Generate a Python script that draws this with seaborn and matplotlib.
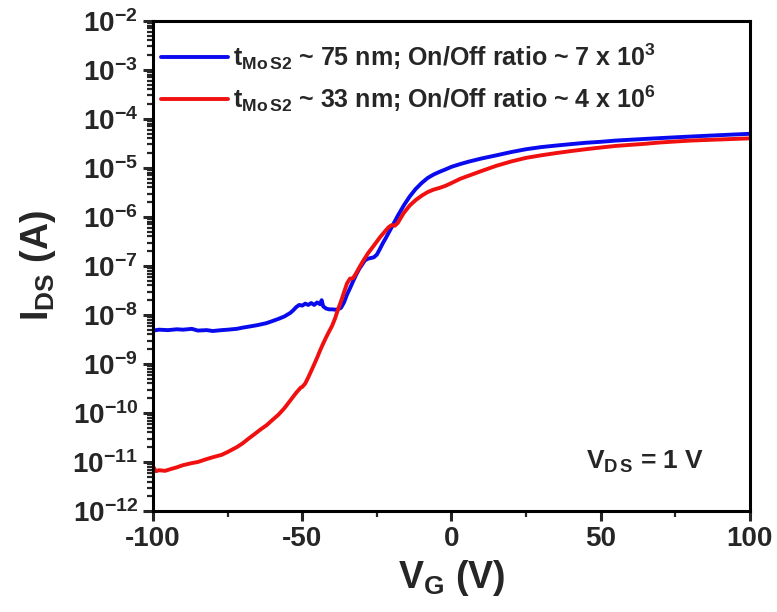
import numpy as np
import pandas as pd
import matplotlib
matplotlib.use("Agg")
import matplotlib.pyplot as plt
import seaborn as sns
from matplotlib.ticker import LogLocator, MultipleLocator, NullFormatter

# ---- data ----
vg_blue = [-100, -98, -95, -92, -90, -87, -85, -82, -80, -77, -75, -72, -70, -67, -65, -62,
           -60, -58, -56, -54, -53, -52, -51, -50, -49, -48, -47, -46, -45, -44, -43.5, -43,
           -42, -41, -40, -39, -38, -37, -36, -35, -34, -33, -32, -31, -30, -29, -28, -27,
           -26, -25, -24, -23, -22, -21, -20, -18, -16, -14, -12, -10, -8, -6, -4, -2, 0,
           3, 6, 10, 15, 20, 25, 30, 35, 40, 45, 50, 55, 60, 65, 70, 75, 80, 85, 90, 95, 100]
ids_blue = [4.8e-9, 5.0e-9, 4.9e-9, 5.1e-9, 5.0e-9, 5.2e-9, 4.8e-9, 4.9e-9, 4.7e-9, 4.9e-9,
            5.0e-9, 5.2e-9, 5.5e-9, 5.9e-9, 6.2e-9, 6.8e-9,
            7.5e-9, 8.3e-9, 9.3e-9, 1.1e-8, 1.25e-8, 1.45e-8, 1.6e-8, 1.55e-8, 1.7e-8, 1.6e-8,
            1.75e-8, 1.6e-8, 1.8e-8, 1.65e-8, 2.0e-8, 1.5e-8,
            1.35e-8, 1.3e-8, 1.3e-8, 1.28e-8, 1.3e-8, 1.4e-8, 1.8e-8, 2.6e-8, 3.5e-8, 4.8e-8,
            6.5e-8, 8.5e-8, 1.05e-7, 1.3e-7, 1.4e-7, 1.45e-7,
            1.5e-7, 1.7e-7, 2.2e-7, 2.9e-7, 3.7e-7, 4.8e-7, 6.2e-7, 1.05e-6, 1.7e-6, 2.6e-6,
            3.7e-6, 4.9e-6, 6.2e-6, 7.3e-6, 8.3e-6, 9.3e-6, 1.05e-5,
            1.2e-5, 1.35e-5, 1.55e-5, 1.8e-5, 2.1e-5, 2.4e-5, 2.65e-5, 2.85e-5, 3.05e-5,
            3.25e-5, 3.4e-5, 3.6e-5, 3.75e-5, 3.9e-5, 4.05e-5, 4.2e-5, 4.35e-5, 4.5e-5,
            4.65e-5, 4.8e-5, 4.95e-5]

vg_red = [-100, -99, -98, -96, -94, -92, -90, -87, -85, -82, -80, -77, -75, -72, -70, -68,
          -66, -64, -62, -60, -58, -56, -54, -52, -50.5, -50, -49, -48, -47, -46, -45, -44,
          -43, -42, -41, -40, -39, -38, -37, -36, -35, -34, -33, -32, -31, -30, -28, -26,
          -24, -22, -21, -20, -19, -18, -17, -16, -14, -12, -10, -8, -6, -4, -2, 0, 3, 6,
          10, 15, 20, 25, 30, 35, 40, 45, 50, 55, 60, 65, 70, 75, 80, 85, 90, 95, 100]
ids_red = [8e-12, 6.5e-12, 6.8e-12, 6.6e-12, 7.2e-12, 7.8e-12, 8.6e-12, 9.5e-12, 1.0e-11,
           1.15e-11, 1.25e-11, 1.4e-11, 1.6e-11, 2.0e-11, 2.4e-11, 3.0e-11,
           3.7e-11, 4.6e-11, 5.6e-11, 7.2e-11, 9.2e-11, 1.25e-10, 1.8e-10, 2.6e-10, 3.3e-10,
           3.4e-10, 4.0e-10, 5.3e-10, 7.2e-10, 9.8e-10, 1.35e-9, 1.9e-9,
           2.6e-9, 3.5e-9, 4.6e-9, 6.0e-9, 8.5e-9, 1.3e-8, 1.9e-8, 2.9e-8, 4.4e-8, 5.5e-8,
           5.6e-8, 7.0e-8, 9.0e-8, 1.15e-7, 1.8e-7, 2.6e-7,
           3.8e-7, 5.3e-7, 6.2e-7, 6.8e-7, 6.6e-7, 7.5e-7, 9.5e-7, 1.2e-6, 1.7e-6, 2.2e-6,
           2.7e-6, 3.2e-6, 3.6e-6, 3.9e-6, 4.3e-6, 4.9e-6, 6.0e-6, 7.0e-6,
           8.6e-6, 1.1e-5, 1.35e-5, 1.6e-5, 1.8e-5, 2.0e-5, 2.2e-5, 2.4e-5, 2.6e-5, 2.8e-5,
           2.95e-5, 3.1e-5, 3.3e-5, 3.45e-5, 3.6e-5, 3.7e-5, 3.8e-5, 3.9e-5, 4.0e-5]

label_blue = r"$t_{\mathrm{Mo\,S2}}$ ~ 75 nm; On/Off ratio ~ 7 x 10$^{3}$"
label_red = r"$t_{\mathrm{Mo\,S2}}$ ~ 33 nm; On/Off ratio ~ 4 x 10$^{6}$"

x_ticks = [-100, -50, 0, 50, 100]

# ---- style ----
sns.set_style("ticks")
plt.rcParams["font.family"] = ["Liberation Sans", "DejaVu Sans"]
plt.rcParams["font.weight"] = "bold"
plt.rcParams["axes.unicode_minus"] = False
plt.rcParams["mathtext.fontset"] = "custom"
plt.rcParams["mathtext.rm"] = "Liberation Sans:bold"
plt.rcParams["mathtext.it"] = "Liberation Sans:bold"
plt.rcParams["mathtext.bf"] = "Liberation Sans:bold"
plt.rcParams["mathtext.sf"] = "Liberation Sans:bold"
plt.rcParams["mathtext.default"] = "regular"

fig = plt.figure(figsize=(7.77, 6.12), dpi=100)
ax = fig.add_axes([0.197, 0.165, 0.768, 0.801])

df_b = pd.DataFrame({"VG": vg_blue, "IDS": ids_blue})
df_r = pd.DataFrame({"VG": vg_red, "IDS": ids_red})
sns.lineplot(data=df_b, x="VG", y="IDS", color="#0a0aee", lw=2.8, sort=False,
             estimator=None, ax=ax, label=label_blue)
sns.lineplot(data=df_r, x="VG", y="IDS", color="#f01010", lw=2.8, sort=False,
             estimator=None, ax=ax, label=label_red)

ax.set_yscale("log")
ax.set_xlim(-100, 100)
ax.set_ylim(1e-12, 1e-2)
ax.set_xticks(x_ticks)
ax.xaxis.set_minor_locator(MultipleLocator(25))
ax.yaxis.set_major_locator(LogLocator(base=10, numticks=20))
ax.yaxis.set_minor_locator(LogLocator(base=10, subs=np.arange(2, 10), numticks=20))
ax.yaxis.set_minor_formatter(NullFormatter())

for s in ax.spines.values():
    s.set_linewidth(2.2)
    s.set_color("black")
ax.tick_params(axis="both", which="major", direction="out", length=7, width=2.2,
               labelsize=20, pad=4)
ax.tick_params(axis="both", which="minor", direction="out", length=4, width=1.6)
ax.tick_params(top=False, right=False, which="both")

ax.set_xlabel(r"$V_{G}$ (V)", fontsize=27, fontweight="bold", labelpad=4)
ax.set_ylabel(r"$I_{DS}$ (A)", fontsize=27, fontweight="bold", labelpad=10)

ax.text(65, 1.0e-11, r"$V_{D\,S}$ = 1 V", fontsize=19, fontweight="bold",
        ha="center", va="center")

leg = ax.legend(loc="upper left", bbox_to_anchor=(0.0, 0.973), frameon=False,
                fontsize=18, handlelength=2.7, handletextpad=0.2, borderaxespad=0.0,
                labelspacing=0.45, borderpad=0.3)

fig.savefig("out.png", dpi=100)
